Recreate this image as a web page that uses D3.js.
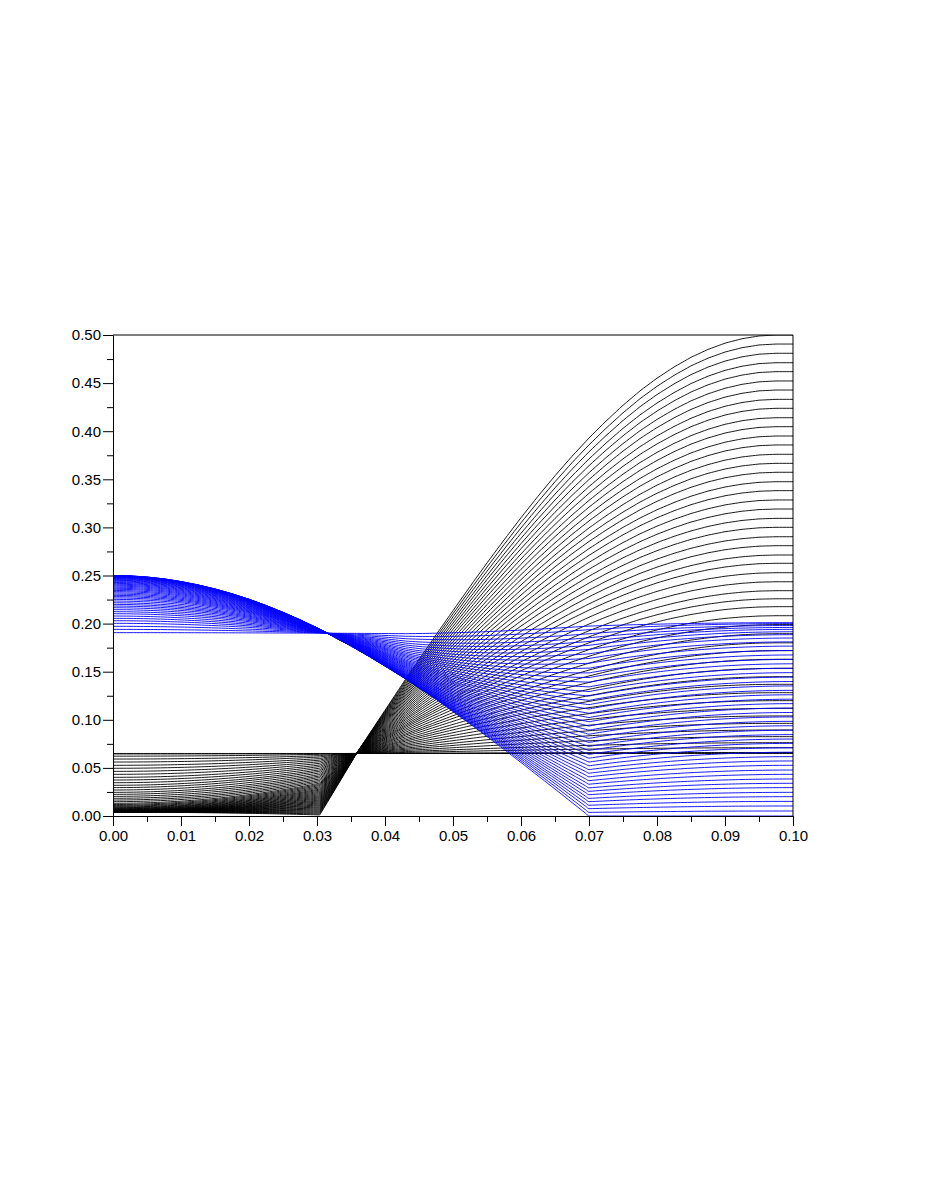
<!DOCTYPE html>
<html>
<head>
<meta charset="utf-8">
<script src="https://cdn.jsdelivr.net/npm/d3@7"></script>
<style>
  body { margin: 0; background: #fff; }
</style>
</head>
<body>
<div id="root"></div>
<script>
// extreme curve of the black family (the one ending at 0.50), and its flat partner
const blackSpineX = [0, 0.0304, 0.0358, 0.0431, 0.0450, 0.0475, 0.0500, 0.0525, 0.0550, 0.0575,
  0.0600, 0.0625, 0.0650, 0.0675, 0.0700, 0.0725, 0.0750, 0.0775, 0.0800, 0.0825,
  0.0850, 0.0875, 0.0900, 0.0925, 0.0950, 0.0975, 0.1000];
const blackSpineY = [0, 0, 0.065, 0.143, 0.1626, 0.1882, 0.2135, 0.2385, 0.2631, 0.2869,
  0.3101, 0.3324, 0.3537, 0.3739, 0.3929, 0.4105, 0.4269, 0.4419, 0.4551, 0.4667,
  0.4768, 0.4850, 0.4915, 0.4961, 0.4990, 0.5000, 0.5000];
const blackFlat = 0.065;

// extreme curve of the blue family (the one ending at 0.00), and its flat partner
const blueEdgeX = [0, 0.0025, 0.005, 0.0075, 0.010, 0.0125, 0.015, 0.0175, 0.020, 0.0225,
  0.025, 0.0275, 0.030, 0.0315, 0.035, 0.0375, 0.040, 0.0431, 0.045, 0.0475,
  0.050, 0.0525, 0.055, 0.0575, 0.060, 0.0625, 0.065, 0.0675, 0.070, 0.100];
const blueEdgeY = [0.2500, 0.2496, 0.2484, 0.2465, 0.2437, 0.2402, 0.2360, 0.2310, 0.2253, 0.2188,
  0.2117, 0.2039, 0.1955, 0.1900, 0.1768, 0.1666, 0.1559, 0.1423, 0.1330, 0.1214,
  0.1085, 0.0957, 0.0826, 0.0692, 0.0556, 0.0418, 0.0280, 0.0140, 0, 0];
const blueFlat = 0.19;

// value of every curve at x = 0.00 and at x = 0.10 (same index = same curve)
const blackStart = [0.0652, 0.0645, 0.0622, 0.0592, 0.0561, 0.0527, 0.0496, 0.0464, 0.0433, 0.0402,
  0.0374, 0.0346, 0.0319, 0.0295, 0.0270, 0.0246, 0.0225, 0.0204, 0.0184, 0.0166,
  0.0149, 0.0132, 0.0120, 0.0110, 0.0101, 0.0093, 0.0086, 0.0080, 0.0075, 0.0070,
  0.0066, 0.0062, 0.0059, 0.0056, 0.0054, 0.0052, 0.0050, 0.0049, 0.0048, 0.0047,
  0.0046, 0.0045, 0.0045, 0.0044, 0.0044, 0.0043, 0.0043, 0.0042, 0.0042, 0.0041,
  0.0041, 0.0040];
const blackEnd = [0.0650, 0.0655, 0.0660, 0.0710, 0.0762, 0.0825, 0.0894, 0.0963, 0.1040, 0.1119,
  0.1199, 0.1282, 0.1369, 0.1448, 0.1535, 0.1629, 0.1719, 0.1800, 0.1895, 0.1990,
  0.2082, 0.2176, 0.2258, 0.2342, 0.2435, 0.2529, 0.2627, 0.2713, 0.2810, 0.2903,
  0.3001, 0.3094, 0.3191, 0.3285, 0.3382, 0.3475, 0.3573, 0.3666, 0.3760, 0.3857,
  0.3950, 0.4047, 0.4140, 0.4238, 0.4331, 0.4428, 0.4522, 0.4619, 0.4712, 0.4810,
  0.4906, 0.5000];
const blueStart = [0.2500, 0.2500, 0.2499, 0.2498, 0.2496, 0.2494, 0.2491, 0.2488, 0.2484, 0.2480,
  0.2475, 0.2470, 0.2464, 0.2458, 0.2451, 0.2444, 0.2436, 0.2428, 0.2419, 0.2410,
  0.2400, 0.2390, 0.2379, 0.2368, 0.2357, 0.2345, 0.2333, 0.2320, 0.2307, 0.2294,
  0.2281, 0.2267, 0.2252, 0.2235, 0.2217, 0.2200, 0.2183, 0.2165, 0.2145, 0.2124,
  0.2103, 0.2079, 0.2055, 0.2030, 0.2003, 0.1972, 0.1940, 0.1906];
const blueEnd = [0, 0.0052, 0.0104, 0.0152, 0.0201, 0.0246, 0.0295, 0.0340, 0.0385, 0.0433,
  0.0478, 0.0527, 0.0572, 0.0617, 0.0663, 0.0709, 0.0755, 0.0800, 0.0846, 0.0892,
  0.0938, 0.0984, 0.1030, 0.1076, 0.1122, 0.1168, 0.1214, 0.1260, 0.1306, 0.1352,
  0.1398, 0.1444, 0.1490, 0.1536, 0.1582, 0.1628, 0.1674, 0.1720, 0.1766, 0.1810,
  0.1850, 0.1885, 0.1915, 0.1940, 0.1960, 0.1980, 0.2000, 0.2010];

const xTicks = [0, 0.01, 0.02, 0.03, 0.04, 0.05, 0.06, 0.07, 0.08, 0.09, 0.10];
const xMinor = [0.005, 0.015, 0.025, 0.035, 0.045, 0.055, 0.065, 0.075, 0.085, 0.095];
const yTicks = [0, 0.05, 0.10, 0.15, 0.20, 0.25, 0.30, 0.35, 0.40, 0.45, 0.50];
const yMinor = [0.025, 0.075, 0.125, 0.175, 0.225, 0.275, 0.325, 0.375, 0.425, 0.475];

const curvesChart = () => {
  const w = 926;
  const h = 1199;
  const left = 113, right = 793, top = 335, bottom = 816;

  const svg = d3.select('#root')
    .append('svg')
    .attr('width', w)
    .attr('height', h);

  const x = d3.scaleLinear().domain([0, 0.1]).range([left, right]);
  const y = d3.scaleLinear().domain([0, 0.5]).range([bottom, top]);

  const spine = d3.scaleLinear().domain(blackSpineX).range(blackSpineY).clamp(true);
  const edge = d3.scaleLinear().domain(blueEdgeX).range(blueEdgeY).clamp(true);

  // sample positions along x
  const xs = Array.from(new Set(
      d3.range(0, 0.10001, 0.0005).map(v => +v.toFixed(4)).concat(blackSpineX, blueEdgeX)))
    .sort(d3.ascending);

  const clamp01 = t => Math.max(0, Math.min(1, t));
  const blackEase = d3.easePolyIn.exponent(2);

  // each black curve blends the flat line and the spine; the blend moves from its
  // start weight to its end weight before the corner at x = 0.0358
  const spineTop = blackSpineY[blackSpineY.length - 1];
  const blackCurves = blackStart.map((s, i) => {
    const ws = clamp01(1 - s / blackFlat);
    const we = (blackEnd[i] - blackFlat) / (spineTop - blackFlat);
    return xs.map(v => {
      const wt = ws + (we - ws) * blackEase(clamp01(v / 0.0358));
      return [v, blackFlat + wt * (spine(v) - blackFlat)];
    });
  });

  // blue curves leave the edge curve after the crossing at x = 0.0431
  const edgeTop = blueEdgeY[0];
  const edgeEnd = blueEdgeY[blueEdgeY.length - 1];
  const blueCurves = blueStart.map((s, i) => {
    const ws = (s - blueFlat) / (edgeTop - blueFlat);
    const we = (blueFlat - blueEnd[i]) / (blueFlat - edgeEnd);
    return xs.map(v => {
      const wt = ws + (we - ws) * d3.easeQuadOut(clamp01((v - 0.0431) / (0.1 - 0.0431)));
      return [v, blueFlat + wt * (edge(v) - blueFlat)];
    });
  });

  svg.append('clipPath')
    .attr('id', 'plot')
    .append('rect')
    .attr('x', left)
    .attr('y', top)
    .attr('width', right - left)
    .attr('height', bottom - top);

  const line = d3.line()
    .x(d => x(d[0]))
    .y(d => y(d[1]))
    .curve(d3.curveMonotoneX);

  const plot = svg.append('g').attr('clip-path', 'url(#plot)');

  plot.selectAll('path.black')
    .data(blackCurves)
    .enter()
    .append('path')
    .attr('class', 'black')
    .attr('d', line)
    .attr('fill', 'none')
    .attr('stroke', '#000')
    .attr('stroke-width', 0.9);

  plot.selectAll('path.blue')
    .data(blueCurves)
    .enter()
    .append('path')
    .attr('class', 'blue')
    .attr('d', line)
    .attr('fill', 'none')
    .attr('stroke', '#0000ff')
    .attr('stroke-width', 0.9);

  // frame top and right
  svg.append('path')
    .attr('d', `M${left},${top}H${right}V${bottom}`)
    .attr('fill', 'none')
    .attr('stroke', '#000')
    .attr('stroke-width', 1);

  const fmt = d3.format('.2f');

  const styleAxis = g => {
    g.selectAll('text')
      .attr('font-family', '"Liberation Sans", Arial, sans-serif')
      .attr('font-size', '15px')
      .attr('fill', '#000');
    g.selectAll('line, path').attr('stroke', '#000');
  };

  svg.append('g')
    .attr('transform', `translate(${left},0)`)
    .call(d3.axisLeft(y).tickValues(yMinor).tickFormat('').tickSize(6).tickSizeOuter(0))
    .call(g => g.select('.domain').remove())
    .call(styleAxis);

  svg.append('g')
    .attr('transform', `translate(${left},0)`)
    .call(d3.axisLeft(y).tickValues(yTicks).tickFormat(fmt).tickSize(10).tickSizeOuter(0).tickPadding(2))
    .call(styleAxis);

  svg.append('g')
    .attr('transform', `translate(0,${bottom})`)
    .call(d3.axisBottom(x).tickValues(xMinor).tickFormat('').tickSize(6).tickSizeOuter(0))
    .call(g => g.select('.domain').remove())
    .call(styleAxis);

  svg.append('g')
    .attr('transform', `translate(0,${bottom})`)
    .call(d3.axisBottom(x).tickValues(xTicks).tickFormat(fmt).tickSize(10).tickSizeOuter(0).tickPadding(4))
    .call(styleAxis);
};

curvesChart();
</script>
</body>
</html>
